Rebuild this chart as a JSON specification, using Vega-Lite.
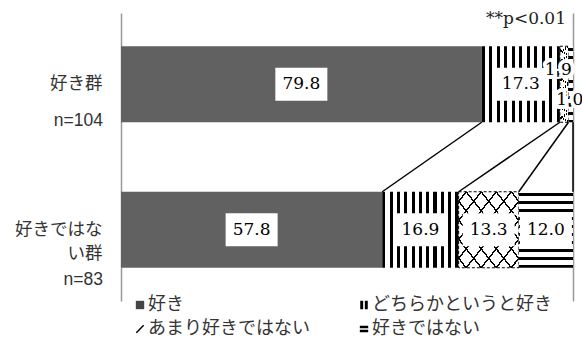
{
  "$schema": "https://vega.github.io/schema/vega-lite/v6.json",
  "width": 452,
  "height": 288,
  "padding": {"left": 0, "top": 10, "right": 9, "bottom": 0},
  "title": {"text": "**p<0.01", "anchor": "end", "frame": "group", "font": "DejaVu Serif", "fontSize": 17, "fontWeight": "normal", "color": "#222", "offset": -15, "dx": -7},
  "datasets": {
    "main": [
      {"group": "好き群", "cat": "好き", "value": 79.8},
      {"group": "好き群", "cat": "どちらかというと好き", "value": 17.3},
      {"group": "好き群", "cat": "あまり好きではない", "value": 1.9},
      {"group": "好き群", "cat": "好きではない", "value": 1.0},
      {"group": "好きではない群", "cat": "好き", "value": 57.8},
      {"group": "好きではない群", "cat": "どちらかというと好き", "value": 16.9},
      {"group": "好きではない群", "cat": "あまり好きではない", "value": 13.3},
      {"group": "好きではない群", "cat": "好きではない", "value": 12.0}
    ],
    "groups": [
      {"group": "好き群", "n": 104, "nlabel": "n=104"},
      {"group": "好きではない群", "n": 83, "nlabel": "n=83"}
    ],
    "links": [
      {"from": 79.8, "to": 57.8},
      {"from": 97.1, "to": 74.7},
      {"from": 99.0, "to": 88.0},
      {"from": 100, "to": 100}
    ]
  },
  "layer": [
    {
      "data": {"name": "main"},
      "transform": [{"stack": "value", "groupby": ["group"], "as": ["v0", "v1"]}],
      "encoding": {
        "y": {
          "field": "group", "type": "nominal",
          "sort": ["好き群", "好きではない群"],
          "scale": {"paddingInner": 0.4777, "paddingOuter": 0.2285},
          "axis": {
            "title": null, "domain": false, "ticks": false,
            "labelPadding": 19, "minExtent": 121, "maxExtent": 121,
            "labelFont": "Noto Sans CJK JP", "labelFontSize": 17.5, "labelColor": "#333",
            "labelLineHeight": 24,
            "labelExpr": "datum.value == '好きではない群' ? ['好きではな', 'い群'] : datum.value"
          }
        },
        "x": {
          "field": "v0", "type": "quantitative",
          "scale": {"domain": [0, 100], "nice": false},
          "axis": {"values": [0, 100], "grid": true, "gridColor": "#999", "gridWidth": 1.5, "domain": false, "ticks": false, "labels": false, "title": null}
        }
      },
      "layer": [
        {
          "transform": [{"filter": "datum.cat == '好き'"}],
          "mark": {"type": "bar", "fill": "#616161"},
          "encoding": {"x2": {"field": "v1"}}
        },
        {
          "transform": [{"filter": "datum.cat == 'どちらかというと好き'"}],
          "mark": {"type": "bar", "fill": {"gradient": "linear", "x1": 0, "y1": 0, "x2": 1, "y2": 0, "stops": [
            {"offset": 0, "color": "#000"}, {"offset": 0.042, "color": "#000"}, {"offset": 0.042, "color": "#fff"}, {"offset": 0.0958, "color": "#fff"},
            {"offset": 0.0958, "color": "#000"}, {"offset": 0.1378, "color": "#000"}, {"offset": 0.1378, "color": "#fff"}, {"offset": 0.1916, "color": "#fff"},
            {"offset": 0.1916, "color": "#000"}, {"offset": 0.2336, "color": "#000"}, {"offset": 0.2336, "color": "#fff"}, {"offset": 0.2874, "color": "#fff"},
            {"offset": 0.2874, "color": "#000"}, {"offset": 0.3294, "color": "#000"}, {"offset": 0.3294, "color": "#fff"}, {"offset": 0.3832, "color": "#fff"},
            {"offset": 0.3832, "color": "#000"}, {"offset": 0.4252, "color": "#000"}, {"offset": 0.4252, "color": "#fff"}, {"offset": 0.479, "color": "#fff"},
            {"offset": 0.479, "color": "#000"}, {"offset": 0.521, "color": "#000"}, {"offset": 0.521, "color": "#fff"}, {"offset": 0.5748, "color": "#fff"},
            {"offset": 0.5748, "color": "#000"}, {"offset": 0.6168, "color": "#000"}, {"offset": 0.6168, "color": "#fff"}, {"offset": 0.6706, "color": "#fff"},
            {"offset": 0.6706, "color": "#000"}, {"offset": 0.7126, "color": "#000"}, {"offset": 0.7126, "color": "#fff"}, {"offset": 0.7664, "color": "#fff"},
            {"offset": 0.7664, "color": "#000"}, {"offset": 0.8084, "color": "#000"}, {"offset": 0.8084, "color": "#fff"}, {"offset": 0.8622, "color": "#fff"},
            {"offset": 0.8622, "color": "#000"}, {"offset": 0.9042, "color": "#000"}, {"offset": 0.9042, "color": "#fff"}, {"offset": 0.958, "color": "#fff"},
            {"offset": 0.958, "color": "#000"}, {"offset": 1, "color": "#000"}
          ]}},
          "encoding": {"x2": {"field": "v1"}}
        },
        {
          "transform": [{"filter": "datum.cat == 'あまり好きではない'"}],
          "mark": {"type": "bar", "stroke": "#000", "strokeWidth": 1, "strokeDash": [3, 2], "fill": {"gradient": "linear", "x1": 0, "y1": 0, "x2": 1, "y2": 1, "stops": [
            {"offset": 0, "color": "#fff"}, {"offset": 0.055, "color": "#fff"}, {"offset": 0.055, "color": "#000"}, {"offset": 0.07, "color": "#000"},
            {"offset": 0.07, "color": "#fff"}, {"offset": 0.18, "color": "#fff"}, {"offset": 0.18, "color": "#000"}, {"offset": 0.195, "color": "#000"},
            {"offset": 0.195, "color": "#fff"}, {"offset": 0.305, "color": "#fff"}, {"offset": 0.305, "color": "#000"}, {"offset": 0.32, "color": "#000"},
            {"offset": 0.32, "color": "#fff"}, {"offset": 0.43, "color": "#fff"}, {"offset": 0.43, "color": "#000"}, {"offset": 0.445, "color": "#000"},
            {"offset": 0.445, "color": "#fff"}, {"offset": 0.555, "color": "#fff"}, {"offset": 0.555, "color": "#000"}, {"offset": 0.57, "color": "#000"},
            {"offset": 0.57, "color": "#fff"}, {"offset": 0.68, "color": "#fff"}, {"offset": 0.68, "color": "#000"}, {"offset": 0.695, "color": "#000"},
            {"offset": 0.695, "color": "#fff"}, {"offset": 0.805, "color": "#fff"}, {"offset": 0.805, "color": "#000"}, {"offset": 0.82, "color": "#000"},
            {"offset": 0.82, "color": "#fff"}, {"offset": 0.93, "color": "#fff"}, {"offset": 0.93, "color": "#000"}, {"offset": 0.945, "color": "#000"},
            {"offset": 0.945, "color": "#fff"}, {"offset": 1, "color": "#fff"}
          ]}},
          "encoding": {"x2": {"field": "v1"}}
        },
        {
          "transform": [{"filter": "datum.cat == 'あまり好きではない'"}],
          "mark": {"type": "bar", "fill": {"gradient": "linear", "x1": 1, "y1": 0, "x2": 0, "y2": 1, "stops": [
            {"offset": 0, "color": "rgba(0,0,0,0)"}, {"offset": 0.055, "color": "rgba(0,0,0,0)"}, {"offset": 0.055, "color": "#000"}, {"offset": 0.07, "color": "#000"},
            {"offset": 0.07, "color": "rgba(0,0,0,0)"}, {"offset": 0.18, "color": "rgba(0,0,0,0)"}, {"offset": 0.18, "color": "#000"}, {"offset": 0.195, "color": "#000"},
            {"offset": 0.195, "color": "rgba(0,0,0,0)"}, {"offset": 0.305, "color": "rgba(0,0,0,0)"}, {"offset": 0.305, "color": "#000"}, {"offset": 0.32, "color": "#000"},
            {"offset": 0.32, "color": "rgba(0,0,0,0)"}, {"offset": 0.43, "color": "rgba(0,0,0,0)"}, {"offset": 0.43, "color": "#000"}, {"offset": 0.445, "color": "#000"},
            {"offset": 0.445, "color": "rgba(0,0,0,0)"}, {"offset": 0.555, "color": "rgba(0,0,0,0)"}, {"offset": 0.555, "color": "#000"}, {"offset": 0.57, "color": "#000"},
            {"offset": 0.57, "color": "rgba(0,0,0,0)"}, {"offset": 0.68, "color": "rgba(0,0,0,0)"}, {"offset": 0.68, "color": "#000"}, {"offset": 0.695, "color": "#000"},
            {"offset": 0.695, "color": "rgba(0,0,0,0)"}, {"offset": 0.805, "color": "rgba(0,0,0,0)"}, {"offset": 0.805, "color": "#000"}, {"offset": 0.82, "color": "#000"},
            {"offset": 0.82, "color": "rgba(0,0,0,0)"}, {"offset": 0.93, "color": "rgba(0,0,0,0)"}, {"offset": 0.93, "color": "#000"}, {"offset": 0.945, "color": "#000"},
            {"offset": 0.945, "color": "rgba(0,0,0,0)"}, {"offset": 1, "color": "rgba(0,0,0,0)"}
          ]}},
          "encoding": {"x2": {"field": "v1"}}
        },
        {
          "transform": [{"filter": "datum.cat == '好きではない'"}],
          "mark": {"type": "bar", "fill": {"gradient": "linear", "x1": 0, "y1": 0, "x2": 0, "y2": 1, "stops": [
            {"offset": 0, "color": "#fff"}, {"offset": 0.02, "color": "#fff"}, {"offset": 0.02, "color": "#000"}, {"offset": 0.06, "color": "#000"},
            {"offset": 0.06, "color": "#fff"}, {"offset": 0.1253, "color": "#fff"}, {"offset": 0.1253, "color": "#000"}, {"offset": 0.1653, "color": "#000"},
            {"offset": 0.1653, "color": "#fff"}, {"offset": 0.2306, "color": "#fff"}, {"offset": 0.2306, "color": "#000"}, {"offset": 0.2706, "color": "#000"},
            {"offset": 0.2706, "color": "#fff"}, {"offset": 0.3359, "color": "#fff"}, {"offset": 0.3359, "color": "#000"}, {"offset": 0.3759, "color": "#000"},
            {"offset": 0.3759, "color": "#fff"}, {"offset": 0.4412, "color": "#fff"}, {"offset": 0.4412, "color": "#000"}, {"offset": 0.4812, "color": "#000"},
            {"offset": 0.4812, "color": "#fff"}, {"offset": 0.5465, "color": "#fff"}, {"offset": 0.5465, "color": "#000"}, {"offset": 0.5865, "color": "#000"},
            {"offset": 0.5865, "color": "#fff"}, {"offset": 0.6518, "color": "#fff"}, {"offset": 0.6518, "color": "#000"}, {"offset": 0.6918, "color": "#000"},
            {"offset": 0.6918, "color": "#fff"}, {"offset": 0.7571, "color": "#fff"}, {"offset": 0.7571, "color": "#000"}, {"offset": 0.7971, "color": "#000"},
            {"offset": 0.7971, "color": "#fff"}, {"offset": 0.8624, "color": "#fff"}, {"offset": 0.8624, "color": "#000"}, {"offset": 0.9024, "color": "#000"},
            {"offset": 0.9024, "color": "#fff"}, {"offset": 0.9677, "color": "#fff"}, {"offset": 0.9677, "color": "#000"}, {"offset": 1, "color": "#000"}
          ]}},
          "encoding": {"x2": {"field": "v1"}}
        },
        {
          "transform": [{"filter": "datum.value >= 5"}],
          "mark": {"type": "bar", "fill": "#fff", "height": 33,
            "xOffset": {"expr": "(scale('x', datum.v1) - scale('x', datum.v0)) / 2 - 26"},
            "x2Offset": {"expr": "26 - (scale('x', datum.v1) - scale('x', datum.v0)) / 2"}},
          "encoding": {"x2": {"field": "v1"}}
        },
        {
          "transform": [{"filter": "datum.value >= 5"}],
          "mark": {"type": "text", "font": "DejaVu Serif", "fontSize": 17, "color": "#000", "dx": {"expr": "(scale('x', datum.v1) - scale('x', datum.v0)) / 2"}},
          "encoding": {"text": {"field": "value", "type": "quantitative", "format": ".1f"}}
        },
        {
          "transform": [{"filter": "datum.value < 5 && datum.cat == 'あまり好きではない'"}],
          "mark": {"type": "text", "font": "DejaVu Serif", "fontSize": 17, "fill": "#fff", "stroke": "#fff", "strokeWidth": 8, "strokeJoin": "round", "dy": -14, "dx": {"expr": "(scale('x', datum.v1) - scale('x', datum.v0)) / 2 - 6"}},
          "encoding": {"text": {"field": "value", "type": "quantitative", "format": ".1f"}}
        },
        {
          "transform": [{"filter": "datum.value < 5 && datum.cat == 'あまり好きではない'"}],
          "mark": {"type": "text", "font": "DejaVu Serif", "fontSize": 17, "color": "#000", "dy": -14, "dx": {"expr": "(scale('x', datum.v1) - scale('x', datum.v0)) / 2 - 6"}},
          "encoding": {"text": {"field": "value", "type": "quantitative", "format": ".1f"}}
        },
        {
          "transform": [{"filter": "datum.value < 5 && datum.cat == '好きではない'"}],
          "mark": {"type": "text", "font": "DejaVu Serif", "fontSize": 17, "fill": "#fff", "stroke": "#fff", "strokeWidth": 8, "strokeJoin": "round", "dy": 16, "dx": {"expr": "(scale('x', datum.v1) - scale('x', datum.v0)) / 2 - 1"}},
          "encoding": {"text": {"field": "value", "type": "quantitative", "format": ".1f"}}
        },
        {
          "transform": [{"filter": "datum.value < 5 && datum.cat == '好きではない'"}],
          "mark": {"type": "text", "font": "DejaVu Serif", "fontSize": 17, "color": "#000", "dy": 16, "dx": {"expr": "(scale('x', datum.v1) - scale('x', datum.v0)) / 2 - 1"}},
          "encoding": {"text": {"field": "value", "type": "quantitative", "format": ".1f"}}
        },
        {
          "mark": {"type": "point", "filled": true, "opacity": 0},
          "encoding": {
            "color": {
              "field": "cat", "type": "nominal",
              "scale": {"domain": ["好き", "どちらかというと好き", "あまり好きではない", "好きではない"], "range": ["#444", "#000", "#000", "#000"]},
              "legend": {"title": null, "orient": "none", "legendX": 10, "legendY": 283, "columns": 2, "direction": "horizontal", "padding": 0, "symbolSize": 70, "symbolOpacity": 1, "labelFont": "Noto Sans CJK JP", "labelFontSize": 18, "labelColor": "#333", "labelLimit": 300, "labelOffset": -1, "columnPadding": 45, "rowPadding": 6}
            },
            "shape": {
              "field": "cat", "type": "nominal",
              "scale": {"domain": ["好き", "どちらかというと好き", "あまり好きではない", "好きではない"], "range": ["square", "M-0.9,-1H-0.2V1H-0.9Z M0.2,-1H0.9V1H0.2Z", "M-1,0.8L0.75,-1L1,-0.8L-0.75,1Z", "M-1,-0.8H1V-0.2H-1Z M-1,0.2H1V0.8H-1Z"]},
              "legend": {"title": null, "orient": "none", "legendX": 10, "legendY": 283, "columns": 2, "direction": "horizontal", "padding": 0, "symbolSize": 70, "symbolOpacity": 1, "labelFont": "Noto Sans CJK JP", "labelFontSize": 18, "labelColor": "#333", "labelLimit": 300, "labelOffset": -1, "columnPadding": 45, "rowPadding": 6}
            }
          }
        }
      ]
    },
    {
      "data": {"name": "links"},
      "mark": {"type": "rule", "color": "#000", "strokeWidth": 1.5},
      "encoding": {
        "x": {"field": "from", "type": "quantitative"},
        "x2": {"field": "to"},
        "y": {"datum": "好き群", "type": "nominal", "bandPosition": 1, "sort": ["好き群", "好きではない群"]},
        "y2": {"datum": "好きではない群", "bandPosition": 0}
      }
    },
    {
      "data": {"name": "groups"},
      "transform": [{"filter": "datum.group == '好き群'"}],
      "mark": {"type": "text", "font": "Liberation Sans", "fontSize": 17.5, "color": "#333", "align": "right", "baseline": "middle", "dx": -18, "dy": 37},
      "encoding": {
        "x": {"datum": 0, "type": "quantitative"},
        "y": {"field": "group", "type": "nominal", "sort": ["好き群", "好きではない群"]},
        "text": {"field": "nlabel"}
      }
    },
    {
      "data": {"name": "groups"},
      "transform": [{"filter": "datum.group == '好きではない群'"}],
      "mark": {"type": "text", "font": "Liberation Sans", "fontSize": 17.5, "color": "#333", "align": "right", "baseline": "middle", "dx": -18, "dy": 50},
      "encoding": {
        "x": {"datum": 0, "type": "quantitative"},
        "y": {"field": "group", "type": "nominal", "sort": ["好き群", "好きではない群"]},
        "text": {"field": "nlabel"}
      }
    }
  ],
  "config": {"view": {"stroke": null}}
}
